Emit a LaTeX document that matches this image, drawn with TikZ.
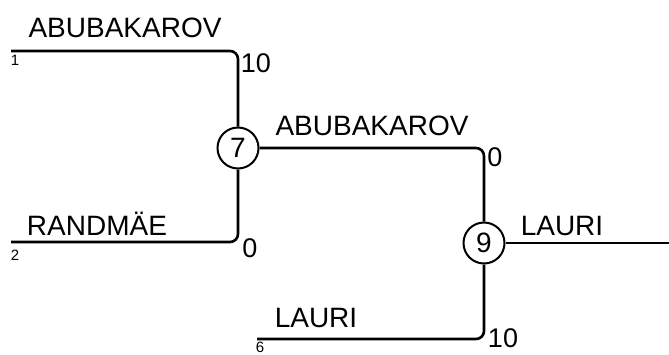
\documentclass[tikz,border=0pt]{standalone}
\usepackage{fontspec}
\setmainfont{Liberation Sans}
\usepackage{tikz}

\begin{document}
\begin{tikzpicture}[x=1pt,y=-1pt,
   line/.style={line width=2.6pt,rounded corners=8pt},
   match/.style={circle,draw,line width=2pt,minimum size=41pt,inner sep=0pt,
    font=\fontsize{28}{30}\selectfont},
   player/.style={font=\fontsize{28}{30}\selectfont,inner sep=0pt},
   seed/.style={font=\fontsize{15}{16}\selectfont,inner sep=0pt},
   score/.style={font=\fontsize{27}{28}\selectfont,inner sep=0pt}
    ]
  \useasboundingbox (0,0) rectangle (669,354);

  % -- matches
  \node[match] at (238,148) (m7) {7};
  \node[match] at (484,243) (m9) {9};

  % -- line ends
  \coordinate (p1) at (11,51);
  \coordinate (p2) at (11,242);
  \coordinate (p6) at (257,339);
  \coordinate (pend) at (669,243);

  % -- lines
  \draw[line] (p1) -| (m7);
  \draw[line] (p2) -| (m7);
  \draw[line] (m7) -| (m9);
  \draw[line] (p6) -| (m9);
  \draw[line] (m9) -- (pend);

  % -- players
  \node[player] at (125,28) (n1) {ABUBAKAROV};
  \node[player] at (97,224) (n2) {RANDMÄE};
  \node[player] at (372,126) (n7) {ABUBAKAROV};
  \node[player] at (316,318) (n6) {LAURI};
  \node[player] at (562,226) (n9) {LAURI};

  % -- seeds
  \node[seed] at (15,60) (s1) {1};
  \node[seed] at (15,255) (s2) {2};
  \node[seed] at (260,347) (s6) {6};

  % -- scores
  \node[score] at (256,63) (r1) {10};
  \node[score] at (250,248) (r2) {0};
  \node[score] at (495,157) (r7) {0};
  \node[score] at (503,338) (r6) {10};

\end{tikzpicture}
\end{document}
